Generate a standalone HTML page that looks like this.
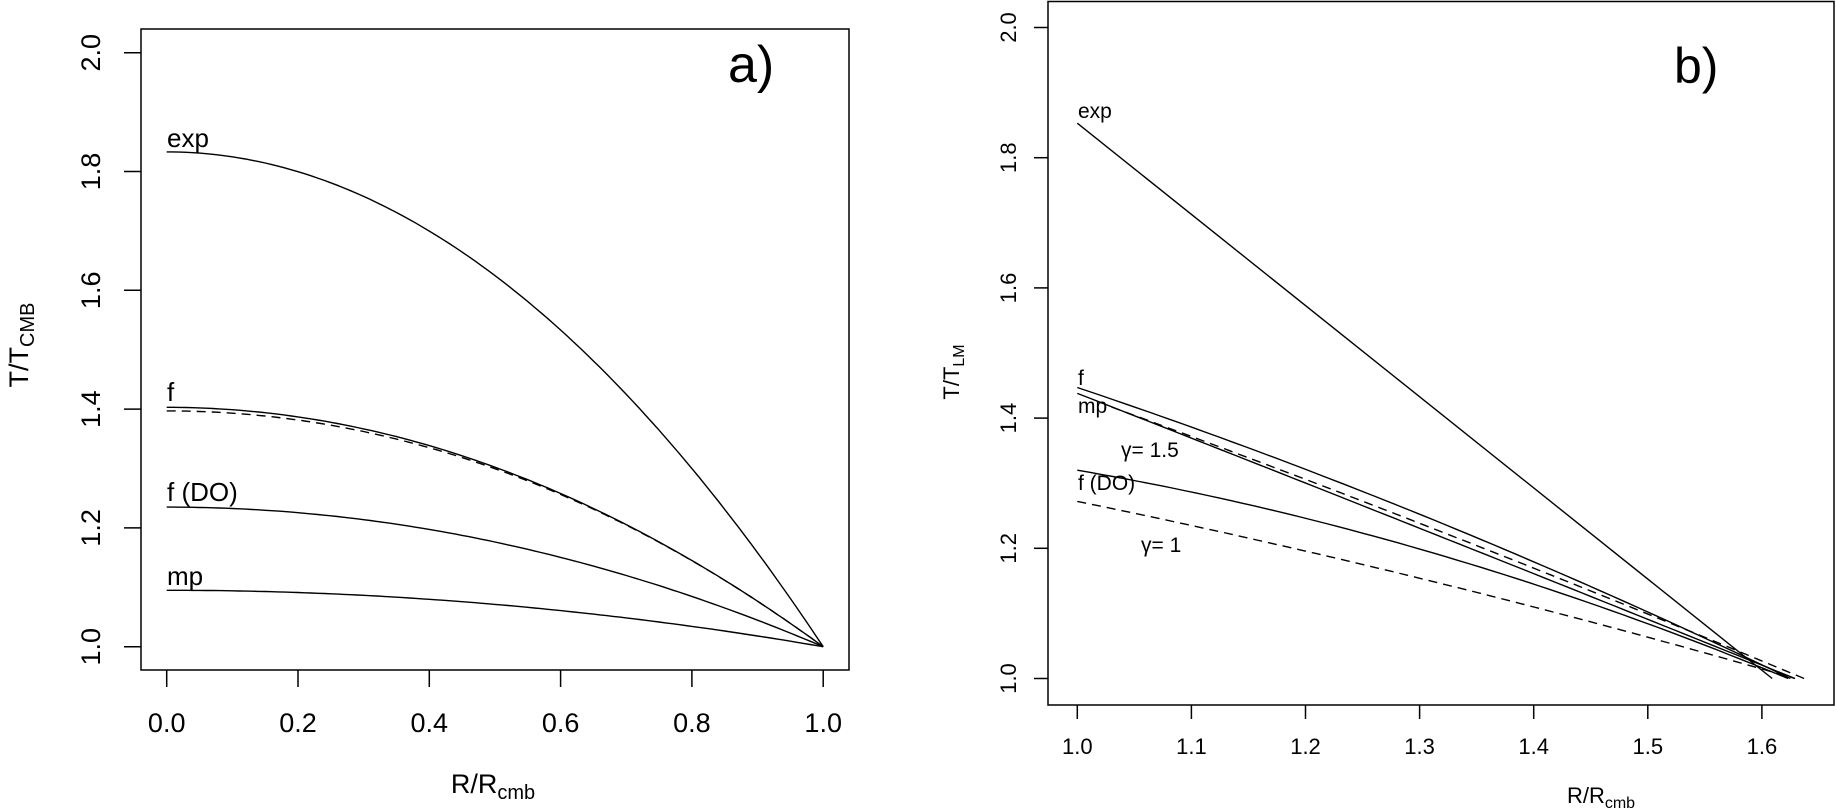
<!DOCTYPE html>
<html><head><meta charset="utf-8"><style>
html,body{margin:0;padding:0;background:#fff;}
svg{display:block;font-family:"Liberation Sans",Arial,sans-serif;}
</style></head><body>
<svg id="s" width="1836" height="809" viewBox="0 0 1836 809" xmlns="http://www.w3.org/2000/svg">
<rect width="1836" height="809" fill="#fff"/>
<!-- Panel a -->
<rect x="141" y="29" width="708" height="641" fill="none" stroke="#000" stroke-width="1.5"/>
<g stroke="#000" stroke-width="1.5">
<line x1="166.7" y1="670" x2="166.7" y2="687"/><line x1="298" y1="670" x2="298" y2="687"/><line x1="429.3" y1="670" x2="429.3" y2="687"/><line x1="560.6" y1="670" x2="560.6" y2="687"/><line x1="691.9" y1="670" x2="691.9" y2="687"/><line x1="823.2" y1="670" x2="823.2" y2="687"/>
<line x1="124" y1="52.7" x2="141" y2="52.7"/><line x1="124" y1="171.5" x2="141" y2="171.5"/><line x1="124" y1="290.3" x2="141" y2="290.3"/><line x1="124" y1="409.1" x2="141" y2="409.1"/><line x1="124" y1="527.9" x2="141" y2="527.9"/><line x1="124" y1="646.7" x2="141" y2="646.7"/>
</g>
<g font-size="27" text-anchor="middle">
<text x="166.7" y="732">0.0</text><text x="298" y="732">0.2</text><text x="429.3" y="732">0.4</text><text x="560.6" y="732">0.6</text><text x="691.9" y="732">0.8</text><text x="823.2" y="732">1.0</text>
<text transform="translate(100,52.7) rotate(-90)">2.0</text>
<text transform="translate(100,171.5) rotate(-90)">1.8</text>
<text transform="translate(100,290.3) rotate(-90)">1.6</text>
<text transform="translate(100,409.1) rotate(-90)">1.4</text>
<text transform="translate(100,527.9) rotate(-90)">1.2</text>
<text transform="translate(100,646.7) rotate(-90)">1.0</text>
</g>
<text x="493" y="793" font-size="27" text-anchor="middle">R/R<tspan font-size="20" dy="6">cmb</tspan></text>
<text transform="translate(28,345) rotate(-90)" font-size="27" text-anchor="middle">T/T<tspan font-size="20" dy="6">CMB</tspan></text>
<text x="728" y="82" font-size="52">a)</text>
<g font-size="26">
<text x="167" y="147">exp</text>
<text x="167" y="401">f</text>
<text x="167" y="501">f (DO)</text>
<text x="167" y="585">mp</text>
</g>
<g id="ga" fill="none" stroke="#000" stroke-width="1.4"></g>
<!-- Panel b -->
<rect x="1048" y="1.5" width="786" height="703.5" fill="none" stroke="#000" stroke-width="1.5"/>
<g stroke="#000" stroke-width="1.5">
<line x1="1077.3" y1="705" x2="1077.3" y2="719"/><line x1="1191.4" y1="705" x2="1191.4" y2="719"/><line x1="1305.5" y1="705" x2="1305.5" y2="719"/><line x1="1419.6" y1="705" x2="1419.6" y2="719"/><line x1="1533.7" y1="705" x2="1533.7" y2="719"/><line x1="1647.8" y1="705" x2="1647.8" y2="719"/><line x1="1761.9" y1="705" x2="1761.9" y2="719"/>
<line x1="1034" y1="27.5" x2="1048" y2="27.5"/><line x1="1034" y1="157.7" x2="1048" y2="157.7"/><line x1="1034" y1="287.9" x2="1048" y2="287.9"/><line x1="1034" y1="418.1" x2="1048" y2="418.1"/><line x1="1034" y1="548.3" x2="1048" y2="548.3"/><line x1="1034" y1="678.5" x2="1048" y2="678.5"/>
</g>
<g font-size="22" text-anchor="middle">
<text x="1077.3" y="754">1.0</text><text x="1191.4" y="754">1.1</text><text x="1305.5" y="754">1.2</text><text x="1419.6" y="754">1.3</text><text x="1533.7" y="754">1.4</text><text x="1647.8" y="754">1.5</text><text x="1761.9" y="754">1.6</text>
<text transform="translate(1016,27.5) rotate(-90)">2.0</text>
<text transform="translate(1016,157.7) rotate(-90)">1.8</text>
<text transform="translate(1016,287.9) rotate(-90)">1.6</text>
<text transform="translate(1016,418.1) rotate(-90)">1.4</text>
<text transform="translate(1016,548.3) rotate(-90)">1.2</text>
<text transform="translate(1016,678.5) rotate(-90)">1.0</text>
</g>
<text x="1601" y="803" font-size="22" text-anchor="middle">R/R<tspan font-size="16" dy="5">cmb</tspan></text>
<text transform="translate(959,372) rotate(-90)" font-size="22" text-anchor="middle">T/T<tspan font-size="16" dy="5">LM</tspan></text>
<text x="1674" y="83" font-size="50">b)</text>
<g font-size="21">
<text x="1078" y="118">exp</text>
<text x="1078" y="385">f</text>
<text x="1078" y="413">mp</text>
<text x="1121" y="457">γ= 1.5</text>
<text x="1078" y="490">f (DO)</text>
<text x="1141" y="552">γ= 1</text>
</g>
<g id="gb" fill="none" stroke="#000" stroke-width="1.4"></g>
</svg>
<script>
(function(){
var NS="http://www.w3.org/2000/svg";
function ax(x){return 166.7+x*656.5;} function ay(y){return 646.7-(y-1)*594;}
function bx(x){return 1077.3+(x-1)*1141;} function by(y){return 678.5-(y-1)*651;}
function add(g,pts,dash){var p=document.createElementNS(NS,"polyline");p.setAttribute("points",pts.map(function(q){return q[0].toFixed(1)+","+q[1].toFixed(1);}).join(" "));if(dash)p.setAttribute("stroke-dasharray","9,6");document.getElementById(g).appendChild(p);}
function para(A,g){var pts=[];for(var i=0;i<=100;i++){var x=i/100;var y=1+A*(1-x*x);pts.push([ax(x),ay(y)]);}add(g,pts,false);}
para(0.833,"ga");para(0.403,"ga");para(0.235,"ga");para(0.095,"ga");
var pd=[];for(var i=0;i<=100;i++){var x=i/100;var u=1-x*x;var y=1+0.403*u-0.006*u*u*u;pd.push([ax(x),ay(y)]);}add("ga",pd,true);
function quad(p0,p1,p2,g,dash){var pts=[];for(var i=0;i<=60;i++){var x=p0[0]+(p2[0]-p0[0])*i/60;
var y=p0[1]*(x-p1[0])*(x-p2[0])/((p0[0]-p1[0])*(p0[0]-p2[0]))+p1[1]*(x-p0[0])*(x-p2[0])/((p1[0]-p0[0])*(p1[0]-p2[0]))+p2[1]*(x-p0[0])*(x-p1[0])/((p2[0]-p0[0])*(p2[0]-p1[0]));
pts.push([bx(x),by(y)]);}add(g,pts,dash);}
add("gb",[[bx(1),by(1.853)],[bx(1.609),by(1.0)]]);
quad([1,1.447],[1.327,1.233],[1.625,1.0],"gb");
quad([1.03,1.417],[1.327,1.220],[1.637,1.0],"gb",true);
quad([1,1.438],[1.327,1.212],[1.629,1.0],"gb");
quad([1,1.320],[1.327,1.185],[1.623,1.0],"gb");
quad([1,1.272],[1.307,1.151],[1.629,1.0],"gb",true);
})();
</script>
</body></html>
